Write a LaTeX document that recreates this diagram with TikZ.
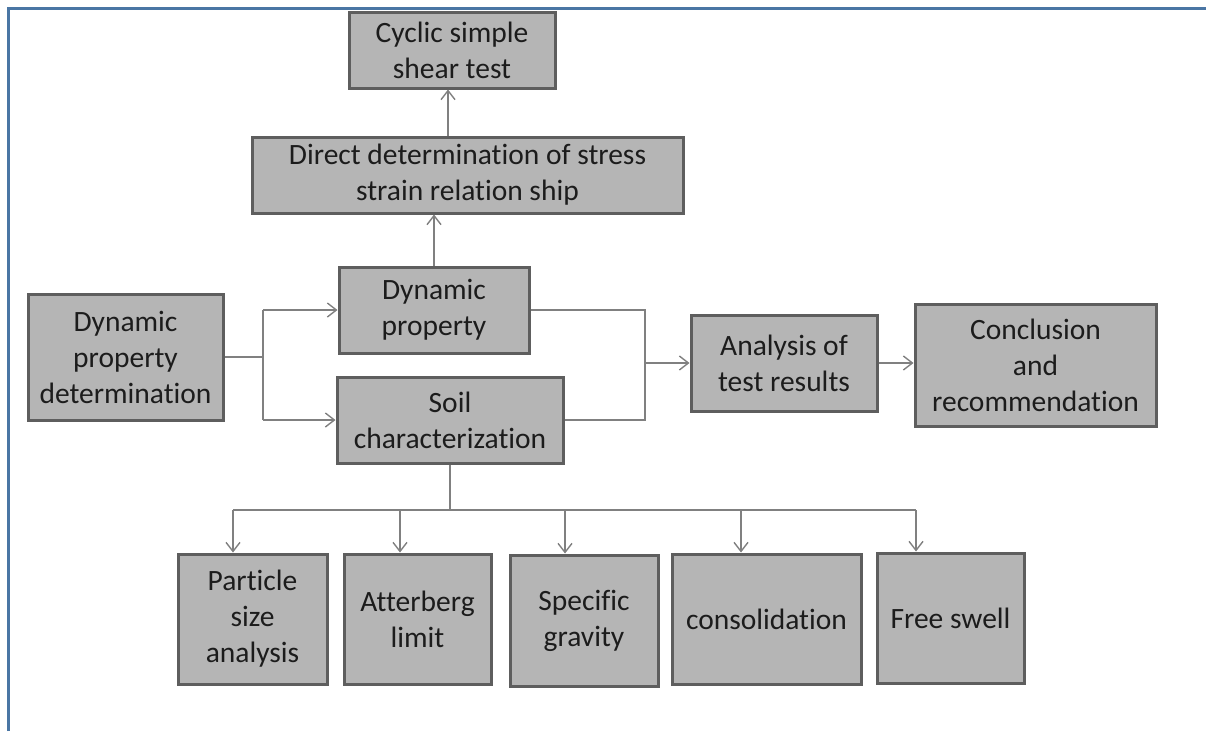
\documentclass[tikz,border=0pt]{standalone}
\usepackage{fontspec}
\setmainfont{Carlito}[Ligatures=NoCommon]
\usetikzlibrary{arrows.meta}
\definecolor{boxfill}{HTML}{B5B5B5}
\definecolor{boxline}{HTML}{5E5E5E}
\definecolor{conn}{HTML}{808080}
\definecolor{frameblue}{HTML}{4A76A4}
\definecolor{txt}{HTML}{1C1C1C}
\tikzset{
  box/.style={draw=boxline, line width=3pt, fill=boxfill, inner sep=0pt,
    align=center, text=txt, font=\fontsize{29.5}{36}\selectfont},
  conline/.style={draw=conn, line width=1.4pt},
  arr/.style={conline, -{Straight Barb[length=9pt,width=14pt,line width=1.4pt]}},
  frameline/.style={draw=frameblue, line width=3pt}
}
\begin{document}
\begin{tikzpicture}[x=1pt,y=-1pt]
\useasboundingbox (0,0) rectangle (1206,731);
\draw[frameline] (8,731) -- (8,8) -- (1206,8);

\node[box, minimum width=206pt, minimum height=76pt] (cyc) at (452,50) {Cyclic simple\\shear test};
\node[box, minimum width=431pt, minimum height=76pt] (dir) at (467.5,175) {Direct determination of stress\\strain relation ship};
\node[box, minimum width=190pt, minimum height=86pt] (dyn) at (434,310) {Dynamic\\property};
\node[box, minimum width=226pt, minimum height=86pt] (soil) at (450,420) {Soil\\characterization};
\node[box, minimum width=195pt, minimum height=126pt] (dpd) at (125.5,357) {Dynamic\\property\\determination};
\node[box, minimum width=186pt, minimum height=96pt] (ana) at (784,363) {Analysis of\\test results};
\node[box, minimum width=241pt, minimum height=122pt] (con) at (1035.5,365) {Conclusion\\and\\recommendation};
\node[box, minimum width=149pt, minimum height=130pt] (part) at (252.5,619) {Particle\\size\\analysis};
\node[box, minimum width=147pt, minimum height=130pt] (att) at (417.5,619) {Atterberg\\limit};
\node[box, minimum width=148pt, minimum height=131pt] (spg) at (584,620.5) {Specific\\gravity};
\node[box, minimum width=189pt, minimum height=130pt] (cons) at (766.5,619) {consolidation};
\node[box, minimum width=147pt, minimum height=130pt] (fsw) at (950.5,618) {Free swell};

\coordinate (a1) at (448,0);
\coordinate (j1) at (263,0);
\coordinate (j2) at (645,0);
\coordinate (b1) at (233,510);
\coordinate (b2) at (400,510);
\coordinate (b3) at (565,510);
\coordinate (b4) at (741,510);
\coordinate (b5) at (916,510);

\draw[arr] (a1 |- dir.north) -- (a1 |- cyc.south);
\draw[arr] (dyn.north) -- (dyn.north |- dir.south);

\draw[conline] (dpd.east) -- (dpd.east -| j1);
\draw[conline] (j1 |- dyn.west) -- (j1 |- soil.west);
\draw[arr] (j1 |- dyn.west) -- (dyn.west);
\draw[arr] (j1 |- soil.west) -- (soil.west);

\draw[conline] (dyn.east) -- (j2 |- dyn.east) -- (j2 |- soil.east) -- (soil.east);
\draw[arr] (j2 |- ana.west) -- (ana.west);
\draw[arr] (ana.east) -- (ana.east -| con.west);

\draw[conline] (soil.south) -- (soil.south |- b1);
\draw[conline] (b1) -- (b5);
\draw[arr] (b1) -- (b1 |- part.north);
\draw[arr] (b2) -- (b2 |- att.north);
\draw[arr] (b3) -- (b3 |- spg.north);
\draw[arr] (b4) -- (b4 |- cons.north);
\draw[arr] (b5) -- (b5 |- fsw.north);
\end{tikzpicture}
\end{document}
